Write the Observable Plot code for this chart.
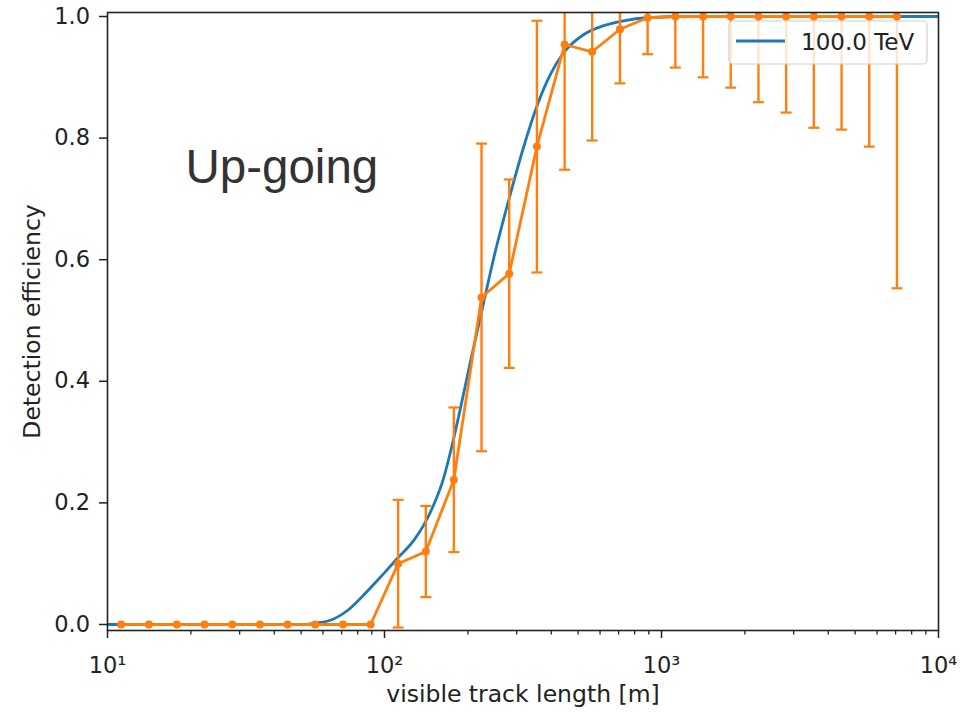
<!DOCTYPE html>
<html>
<head>
<meta charset="utf-8">
<script src="https://cdn.jsdelivr.net/npm/d3@7"></script>
<script src="https://cdn.jsdelivr.net/npm/@observablehq/plot@0.6"></script>
<style>
  body { margin: 0; background: #fff; }
  svg { display: block; }
</style>
</head>
<body>
<div id="chart"></div>
<script>
// Smooth efficiency curve for 100.0 TeV (visible track length in m)
const curveLength = [10, 31.6, 50.1, 55.5, 63.8, 73.5, 83.9, 96.8, 111.4, 127.4, 138.4, 150.3, 163.3, 175.4, 187.9, 204.2, 225.9, 247.7, 285.1, 317.7, 356.5, 397.2, 442.6, 522.4, 618.0, 729.4, 889.2, 1259, 10000];
const curveEff    = [0, 0, 0, 0.002, 0.007, 0.023, 0.048, 0.078, 0.109, 0.138, 0.163, 0.196, 0.240, 0.295, 0.355, 0.432, 0.521, 0.602, 0.709, 0.785, 0.855, 0.905, 0.940, 0.970, 0.985, 0.993, 0.998, 1, 1];

// Binned efficiency with uncertainties
const binLength = [11.2, 14.1, 17.8, 22.4, 28.2, 35.5, 44.7, 56.2, 70.8, 89.1, 112, 141, 178, 224, 282, 355, 447, 562, 708, 891, 1122, 1413, 1778, 2239, 2818, 3548, 4467, 5623, 7079];
const binEff    = [0, 0, 0, 0, 0, 0, 0, 0, 0, 0, 0.100, 0.120, 0.238, 0.538, 0.577, 0.786, 0.954, 0.942, 0.979, 0.998, 1, 1, 1, 1, 1, 1, 1, 1, 1];
const binErr    = [0, 0, 0, 0, 0, 0, 0, 0, 0, 0, 0.105, 0.075, 0.119, 0.253, 0.155, 0.207, 0.206, 0.146, 0.089, 0.060, 0.084, 0.100, 0.117, 0.141, 0.158, 0.183, 0.186, 0.214, 0.447];

// Axis ticks
const xTicks = [10, 100, 1000, 10000];
const xTickLabels = ["10¹", "10²", "10³", "10⁴"];
const xMinorTicks = [20, 30, 40, 50, 60, 70, 80, 90, 200, 300, 400, 500, 600, 700, 800, 900, 2000, 3000, 4000, 5000, 6000, 7000, 8000, 9000];
const yTicks = [0, 0.2, 0.4, 0.6, 0.8, 1.0];

const seriesLabel = "100.0 TeV";
const panelLabel = "Up-going";

const blue = "#1f77b4";
const orange = "#ff7f0e";
const ink = "#222";

const curve = curveLength.map((x, i) => ({x, y: curveEff[i]}));
const bins = binLength.map((x, i) => ({x, y: binEff[i], e: binErr[i]}));
const bars = bins.filter(d => d.e > 0);

// Horizontal cap used at both ends of each error bar
const capSymbol = {
  draw(context, size) {
    const w = Math.sqrt(size / Math.PI);
    context.moveTo(-w, 0);
    context.lineTo(w, 0);
  }
};

const chart = Plot.plot({
  width: 973,
  height: 713,
  marginLeft: 107,
  marginRight: 35,
  marginTop: 12,
  marginBottom: 83,
  style: {fontFamily: "DejaVu Sans", fontSize: "22.5px", color: ink, background: "#fff"},
  x: {type: "log", domain: [10, 10000]},
  y: {domain: [-0.0099, 1.0066]},
  marks: [
    Plot.line(curve, {x: "x", y: "y", stroke: blue, strokeWidth: 2.8, curve: "monotone-x", clip: true}),
    Plot.ruleX(bars, {x: "x", y1: d => d.y - d.e, y2: d => d.y + d.e, stroke: orange, strokeWidth: 2.4, clip: true}),
    Plot.dot(bars, {x: "x", y: d => d.y - d.e, symbol: capSymbol, r: 5.5, stroke: orange, strokeWidth: 2.2, fill: "none", clip: true}),
    Plot.dot(bars, {x: "x", y: d => d.y + d.e, symbol: capSymbol, r: 5.5, stroke: orange, strokeWidth: 2.2, fill: "none", clip: true}),
    Plot.line(bins, {x: "x", y: "y", stroke: orange, strokeWidth: 2.8, clip: true}),
    Plot.dot(bins, {x: "x", y: "y", r: 4, fill: orange, stroke: "none", clip: true}),
    Plot.frame({stroke: ink, strokeWidth: 1.6}),
    Plot.axisX(xMinorTicks, {anchor: "bottom", tickSize: 4.5, tickFormat: () => "", label: null, stroke: ink, strokeWidth: 1.3}),
    Plot.axisX(xTicks, {anchor: "bottom", tickSize: 8, tickPadding: 19, tickFormat: d => xTickLabels[xTicks.indexOf(d)], label: null, stroke: ink, strokeWidth: 1.5, fill: ink}),
    Plot.axisY(yTicks, {anchor: "left", tickSize: 8, tickPadding: 9.5, tickFormat: d3.format(".1f"), label: null, stroke: ink, strokeWidth: 1.5, fill: ink}),
    Plot.text(["visible track length [m]"], {frameAnchor: "bottom", dy: 63.5, textAnchor: "middle", lineAnchor: "middle", fill: ink, fontSize: 23.5}),
    Plot.text(["Detection efficiency"], {frameAnchor: "left", dx: -75, rotate: -90, textAnchor: "middle", lineAnchor: "middle", fill: ink, fontSize: 23.5}),
    Plot.text([panelLabel], {frameAnchor: "top-left", dx: 78, dy: 155, textAnchor: "start", lineAnchor: "middle", fontFamily: "Liberation Sans", fontSize: 47.5, fill: "#333"})
  ]
});

// Legend box in the upper right of the axes
const svg = d3.select(chart);
const lg = svg.append("g").attr("class", "legend");
lg.append("rect")
  .attr("x", 729).attr("y", 21).attr("width", 198).attr("height", 43)
  .attr("rx", 4).attr("ry", 4)
  .attr("fill", "#fff").attr("fill-opacity", 0.8)
  .attr("stroke", "#d0d0d0").attr("stroke-width", 1.2);
lg.append("line")
  .attr("x1", 736).attr("x2", 785).attr("y1", 41).attr("y2", 41)
  .attr("stroke", blue).attr("stroke-width", 2.8);
lg.append("text")
  .attr("x", 801).attr("y", 49.5)
  .attr("text-anchor", "start")
  .attr("font-family", "DejaVu Sans").attr("font-size", 23)
  .attr("fill", ink)
  .text(seriesLabel);

document.getElementById("chart").appendChild(chart);
</script>
</body>
</html>
